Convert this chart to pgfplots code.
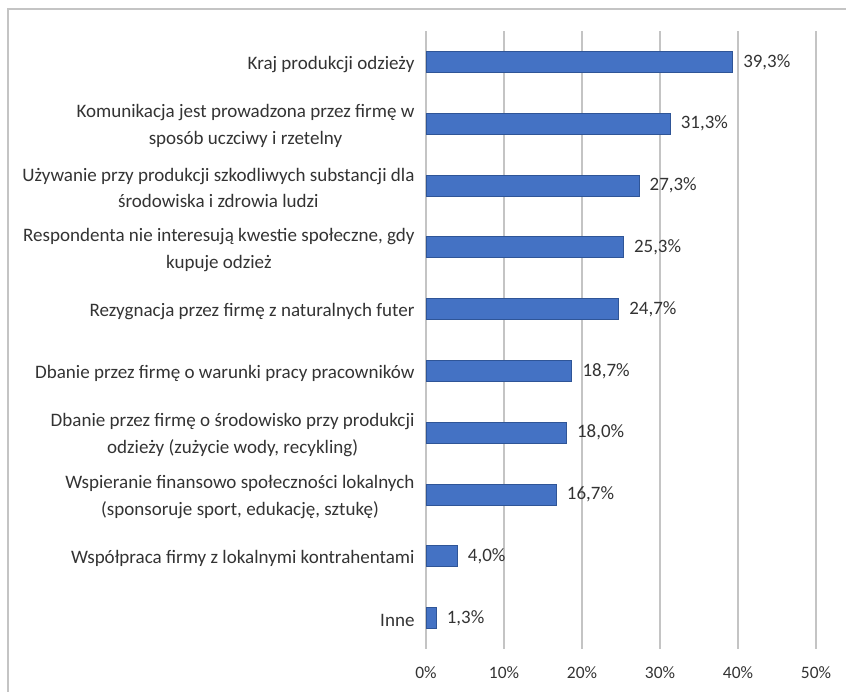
\documentclass[border=0pt]{standalone}
\usepackage{pgfplots}
\pgfplotsset{compat=1.18}
\usepackage{fontspec}
\setmainfont{Carlito}
\definecolor{barblue}{HTML}{4472C4}
\definecolor{baredge}{HTML}{2F5597}
\definecolor{gridgray}{HTML}{C4C4C4}
\definecolor{txt}{HTML}{333333}
\begin{document}
\begin{tikzpicture}[x=1bp,y=1bp]
\useasboundingbox (0,0) rectangle (846,-692);
\draw[gridgray, line width=1.5bp] (8,-710) -- (8,-9) -- (870,-9);
\begin{axis}[
  at={(426bp,-31bp)}, anchor=north west,
  scale only axis, width=390bp, height=618bp,
  xbar, bar width=21bp,
  xmin=0, xmax=50, ymin=-0.5, ymax=9.5, y dir=reverse,
  ytick={0,...,9},
  yticklabels={
    {Kraj produkcji odzieży},
    {Komunikacja jest prowadzona przez firmę w\\sposób uczciwy i rzetelny},
    {Używanie przy produkcji szkodliwych substancji dla\\środowiska i zdrowia ludzi},
    {Respondenta nie interesują kwestie społeczne, gdy\\kupuje odzież},
    {Rezygnacja przez firmę z naturalnych futer},
    {Dbanie przez firmę o warunki pracy pracowników},
    {Dbanie przez firmę o środowisko przy produkcji\\odzieży (zużycie wody, recykling)},
    {Wspieranie finansowo społeczności lokalnych\\(sponsoruje sport, edukację, sztukę)},
    {Współpraca firmy z lokalnymi kontrahentami},
    {Inne}},
  xtick={0,10,20,30,40,50},
  xticklabels={0\%,10\%,20\%,30\%,40\%,50\%},
  xmajorgrids, grid style={gridgray, line width=1.2bp},
  axis line style={draw=none},
  major tick length=0pt,
  tick label style={text=txt},
  yticklabel style={font=\fontsize{19.1}{27}\selectfont, align=center, xshift=-8bp, yshift=-2.5bp},
  xticklabel style={font=\fontsize{17.5}{24}\selectfont, yshift=-14bp},
  /pgf/number format/assume math mode=true,
  nodes near coords={\pgfmathprintnumber[fixed,fixed zerofill,precision=1,use comma,assume math mode=true]{\pgfplotspointmeta}\%},
  nodes near coords align=horizontal,
  every node near coord/.append style={font=\fontsize{19}{25}\selectfont, text=txt, anchor=west, xshift=7bp},
  clip=false,
]
\addplot[fill=barblue, draw=baredge, line width=0.8bp] coordinates {
  (39.3,0) (31.3,1) (27.3,2) (25.3,3) (24.7,4) (18.7,5) (18.0,6) (16.7,7) (4.0,8) (1.3,9)
};
\end{axis}
\end{tikzpicture}
\end{document}
